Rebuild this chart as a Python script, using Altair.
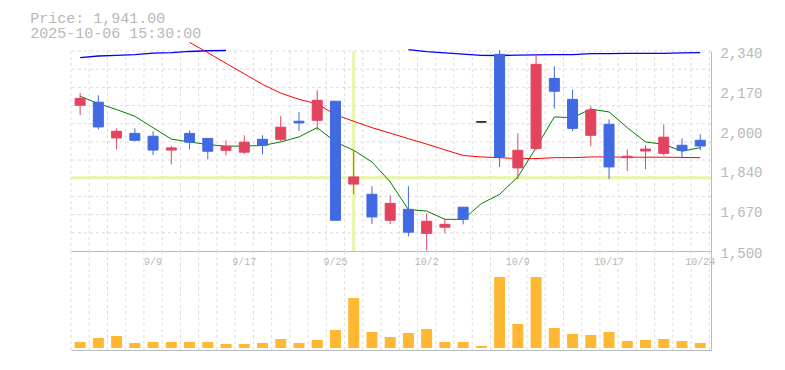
import altair as alt
import pandas as pd

# ---------------- data ----------------
DATES = ['9/3', '9/4', '9/5', '9/8', '9/9', '9/10', '9/11', '9/12', '9/16', '9/17',
         '9/18', '9/19', '9/22', '9/24', '9/25', '9/26', '9/29', '9/30', '10/1', '10/2',
         '10/3', '10/6', '10/7', '10/8', '10/9', '10/10', '10/14', '10/15', '10/16', '10/17',
         '10/20', '10/21', '10/22', '10/23', '10/24']
OPEN = [2112, 2125, 1975, 1994, 1982, 1924, 1994, 1973, 1923, 1915,
        1969, 1969, 2045, 2049, 2129, 1781, 1738, 1629, 1675, 1574,
        1600, 1684, 2042, 2326, 1849, 1931, 2225, 2137, 1986, 2032,
        1892, 1920, 1910, 1944, 1965]
HIGH = [2164, 2154, 2015, 2015, 2003, 1940, 2007, 1973, 1965, 1986,
        1986, 2066, 2083, 2175, 2129, 1923, 1772, 1734, 1772, 1658,
        1637, 1684, 2042, 2343, 1994, 2326, 2276, 2179, 2108, 2053,
        1927, 1944, 2032, 1973, 1990]
LOW = [2071, 2011, 1927, 1961, 1903, 1864, 1927, 1885, 1902, 1906,
       1906, 1961, 2004, 2007, 1629, 1738, 1613, 1613, 1562, 1503,
       1574, 1612, 2042, 1853, 1802, 1923, 2099, 2003, 1940, 1802,
       1836, 1844, 1902, 1889, 1923]
CLOSE = [2141, 2021, 2003, 1965, 1924, 1933, 1957, 1919, 1940, 1957,
         1944, 2020, 2038, 2133, 1629, 1811, 1643, 1700, 1579, 1625,
         1612, 1633, 2042, 1895, 1923, 2284, 2171, 2015, 2092, 1853,
         1898, 1928, 1978, 1923, 1941]
VOLUME = [60, 100, 120, 50, 60, 60, 60, 60, 40, 40,
          50, 90, 50, 80, 180, 500, 160, 110, 150, 190,
          60, 60, 20, 710, 240, 710, 200, 140, 130, 160,
          70, 80, 90, 70, 50]
MA_SHORT = [2150, 2119, 2094, 2066, 2018, 1970, 1958, 1947, 1940, 1941,
            1943, 1958, 1979, 2018, 1958, 1923, 1874, 1790, 1674, 1668,
            1633, 1633, 1699, 1738, 1811, 1934, 2063, 2060, 2096, 2084,
            2018, 1958, 1948, 1919, 1934]
MA_MID = [None, None, None, None, None, None, 2376, 2333, 2288, 2244,
          2200, 2163, 2137, 2118, 2072, 2045, 2018, 1995, 1972, 1949,
          1925, 1901, 1895, 1892, 1888, 1888, 1892, 1892, 1895, 1895,
          1894, 1894, 1894, 1893, 1892]
MA_LONG = [2312, 2319, 2322, 2325, 2331, 2333, 2338, 2341, 2342, None,
           None, None, None, None, None, None, None, None, 2346, 2337,
           2332, 2327, 2322, 2321, 2323, 2324, 2325, 2325, 2329, 2329,
           2330, 2330, 2330, 2332, 2333]
X_LABELS = ['9/9', '9/17', '9/25', '10/2', '10/9', '10/17', '10/24']
Y_LABELS = [1500, 1670, 1840, 2000, 2170, 2340]
HEADER = ["Price: 1,941.00", "2025-10-06 15:30:00"]
CROSS_INDEX = 15
CROSS_PRICE = 1808

# ---------------- frames ----------------
n = len(DATES)
df = pd.DataFrame({"i": list(range(n)), "date": DATES, "open": OPEN, "high": HIGH,
                   "low": LOW, "close": CLOSE, "volume": VOLUME})
df["dir"] = ["up" if c > o else ("down" if c < o else "flat") for o, c in zip(OPEN, CLOSE)]


def ma_frame(vals):
    rows, run, prev = [], 0, None
    for i, v in enumerate(vals):
        if v is None:
            if prev is not None:
                run += 1
        else:
            rows.append({"i": i, "v": v, "run": run})
        prev = v
    return pd.DataFrame(rows)


ma_s = ma_frame(MA_SHORT)
ma_m = ma_frame(MA_MID)
ma_l = ma_frame(MA_LONG)
lab_df = df[df["date"].isin(X_LABELS)]
xgrid_df = pd.DataFrame({"b": [k - 0.5 for k in range(n + 1)]})
ygrid_df = pd.DataFrame({"g": [1500 + (2340 - 1500) * k / 11 for k in range(1, 12)]})
cross_df = pd.DataFrame({"i": [CROSS_INDEX], "p": [CROSS_PRICE]})

# ---------------- styles ----------------
GRID = "#dddddd"
AXIS = "#bbbbbb"
TXT = "#b8b8b8"
FONT = "Liberation Mono"
CROSS = "#e6f5a6"

xs = alt.Scale(domain=[-0.5, 34.59], nice=False, zero=False, padding=0)
ys = alt.Scale(domain=[1500, 2340], nice=False, zero=False, padding=0)
vs = alt.Scale(domain=[0, 990], nice=False, zero=True, padding=0)
cs = alt.Scale(domain=["up", "down", "flat"], range=["#e2445f", "#4169e1", "#000000"])

x_axis = alt.Axis(labels=False, ticks=False, grid=False, domain=True,
                  domainColor=AXIS, title=None)
y_axis = alt.Axis(orient="right", values=Y_LABELS, format=",d", ticks=False, grid=False,
                  domain=True, domainColor=AXIS, labelColor=TXT, labelFont=FONT,
                  labelFontSize=14, labelPadding=9, labelFlush=False,
                  labelOverlap=False, labelOffset=2, title=None)
v_axis = alt.Axis(orient="right", labels=False, ticks=False, grid=False, domain=True,
                  domainColor=AXIS, title=None)

X = lambda f: alt.X(f, scale=xs, axis=x_axis)
Y = lambda f: alt.Y(f, scale=ys, axis=y_axis)

# ---------------- price panel ----------------
vgrid = alt.Chart(xgrid_df).mark_rule(color=GRID, strokeDash=[3, 3], strokeWidth=1).encode(x=X("b:Q"))
hgrid = alt.Chart(ygrid_df).mark_rule(color=GRID, strokeDash=[3, 3], strokeWidth=1).encode(y=Y("g:Q"))
cross_h = alt.Chart(cross_df).mark_rule(color=CROSS, strokeWidth=3).encode(y=Y("p:Q"))
cross_v = alt.Chart(cross_df).mark_rule(color=CROSS, strokeWidth=3).encode(x=X("i:Q"))

line_long = alt.Chart(ma_l).mark_line(color="#0000ff", strokeWidth=1.3).encode(
    x=X("i:Q"), y=Y("v:Q"), detail="run:N")
line_mid = alt.Chart(ma_m).mark_line(color="#ff0000", strokeWidth=1).encode(
    x=X("i:Q"), y=Y("v:Q"), detail="run:N")
line_short = alt.Chart(ma_s).mark_line(color="#008000", strokeWidth=1).encode(
    x=X("i:Q"), y=Y("v:Q"), detail="run:N")

wick = alt.Chart(df).mark_rule(strokeWidth=1).encode(
    x=X("i:Q"), y=Y("low:Q"), y2="high:Q",
    color=alt.Color("dir:N", scale=cs, legend=None))
body = alt.Chart(df).mark_bar(size=10, strokeWidth=1).encode(
    x=X("i:Q"), y=Y("open:Q"), y2="close:Q",
    color=alt.Color("dir:N", scale=cs, legend=None),
    stroke=alt.Stroke("dir:N", scale=cs, legend=None))

head1 = alt.Chart(pd.DataFrame({"t": [HEADER[0]]})).mark_text(
    align="left", baseline="alphabetic", font=FONT, fontSize=15, color=TXT).encode(
    x=alt.value(-40.7), y=alt.value(-28), text="t:N")
head2 = alt.Chart(pd.DataFrame({"t": [HEADER[1]]})).mark_text(
    align="left", baseline="alphabetic", font=FONT, fontSize=15, color=TXT).encode(
    x=alt.value(-40.7), y=alt.value(-13.4), text="t:N")

price = alt.layer(vgrid, hgrid, cross_h, cross_v, line_long, line_mid, line_short,
                  wick, body, head1, head2).properties(width=640, height=200)

# ---------------- volume panel ----------------
vgrid2 = alt.Chart(xgrid_df).mark_rule(color=GRID, strokeDash=[3, 3], strokeWidth=1).encode(x=X("b:Q"))
vbars = alt.Chart(df).mark_bar(color="#ffb833", size=11, yOffset=-2).encode(
    x=X("i:Q"), y=alt.Y("volume:Q", scale=vs, axis=v_axis))
vlabels = alt.Chart(lab_df).mark_text(font=FONT, fontSize=10, color=TXT,
                                      align="center", baseline="middle").encode(
    x=X("i:Q"), y=alt.value(11), text="date:N")

volume = alt.layer(vgrid2, vbars, vlabels).properties(width=640, height=99)

chart = alt.vconcat(price, volume, spacing=0, bounds="flush").properties(
    padding={"left": 22, "top": 3, "right": 5, "bottom": 5}
).configure_view(stroke=None)

chart.save("out.html", embed_options={"renderer": "svg", "actions": False})
